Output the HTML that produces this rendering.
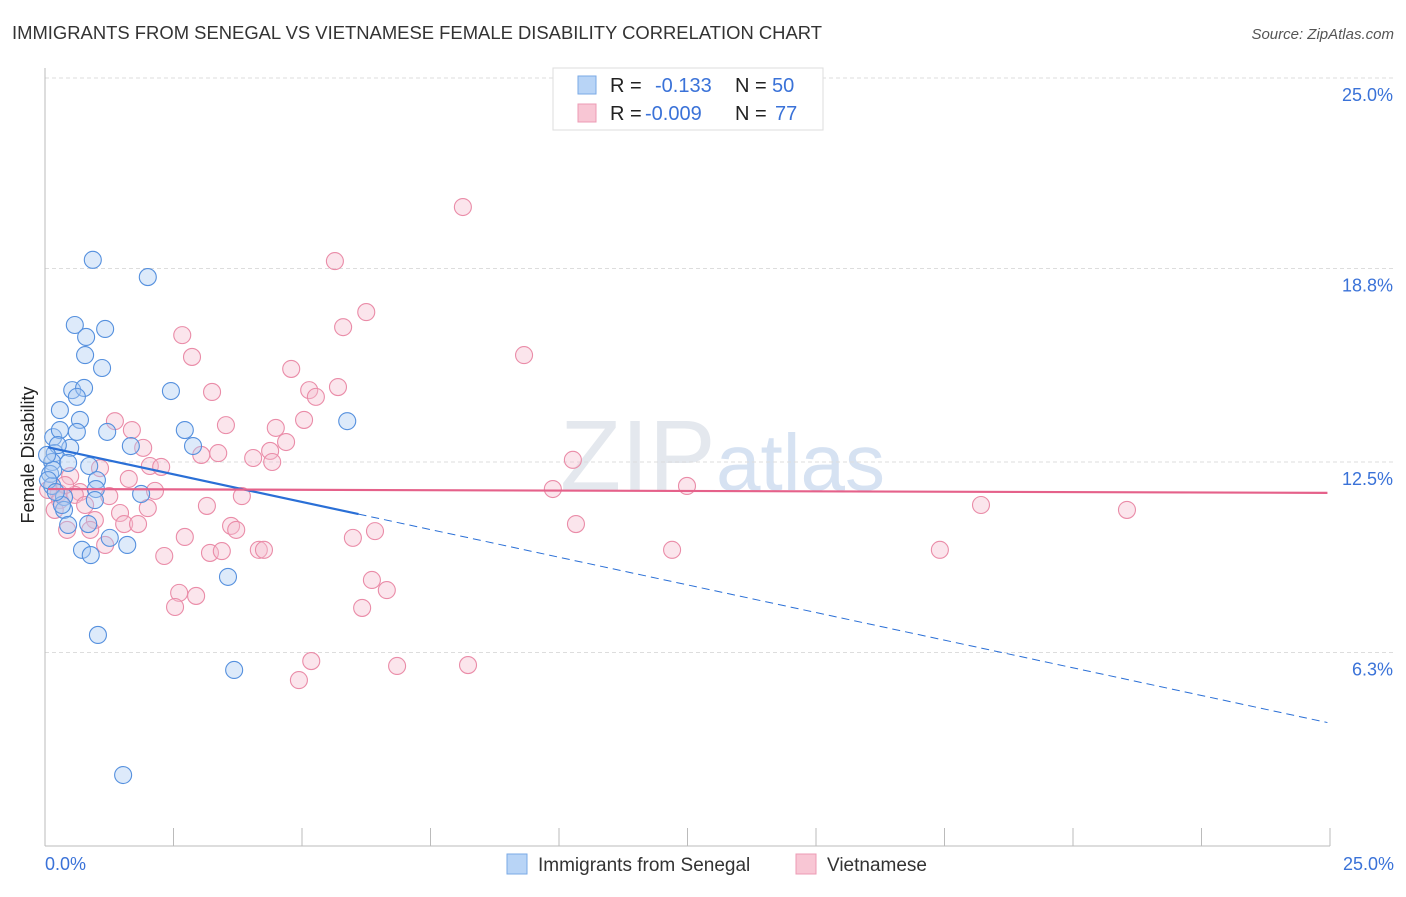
<!DOCTYPE html>
<html><head><meta charset="utf-8"><style>
body{margin:0;background:#fff;font-family:"Liberation Sans",sans-serif;}
svg text{font-family:"Liberation Sans",sans-serif;}
</style></head><body>
<svg id="chart" width="1406" height="892" viewBox="0 0 1406 892" xmlns="http://www.w3.org/2000/svg">
<text x="12" y="39" font-size="18" fill="#333" textLength="810" lengthAdjust="spacingAndGlyphs">IMMIGRANTS FROM SENEGAL VS VIETNAMESE FEMALE DISABILITY CORRELATION CHART</text>
<text x="1394" y="39" font-size="15" fill="#555" font-style="italic" text-anchor="end">Source: ZipAtlas.com</text>
<text x="560" y="490" font-size="100" fill="#e4e8ee" font-family="Liberation Serif">ZIP</text>
<text x="716" y="490" font-size="80" fill="#d6e2f2">atlas</text>
<g id="grid"></g>
<g id="axes"></g>
<g id="pts"></g>
<g id="lines"></g>
<text transform="translate(34,455) rotate(-90)" font-size="18" fill="#222" text-anchor="middle">Female Disability</text>
<g>
<rect x="553" y="68" width="270" height="62" fill="#fff" stroke="#ddd"/>
<rect x="578" y="76" width="18" height="18" fill="#b8d4f6" stroke="#7aaae6"/>
<rect x="578" y="104" width="18" height="18" fill="#f8c6d4" stroke="#ec9bb4"/>
<text x="610" y="92" font-size="20" fill="#222">R = <tspan fill="#3a72d8" x="655">-0.133</tspan><tspan fill="#222" x="735">N = </tspan><tspan fill="#3a72d8" x="772">50</tspan></text>
<text x="610" y="120" font-size="20" fill="#222">R = <tspan fill="#3a72d8" x="645">-0.009</tspan><tspan fill="#222" x="735">N = </tspan><tspan fill="#3a72d8" x="775">77</tspan></text>
</g>
<g>
<rect x="507" y="854" width="20" height="20" fill="#b8d4f6" stroke="#7aaae6"/>
<text x="538" y="871" font-size="19" fill="#333">Immigrants from Senegal</text>
<rect x="796" y="854" width="20" height="20" fill="#f8c6d4" stroke="#ec9bb4"/>
<text x="827" y="871" font-size="19" fill="#333">Vietnamese</text>
</g>
</svg>
<script>
const yTicks=[25.0,18.8,12.5,6.3];
const yTickLabels=["25.0%","18.8%","12.5%","6.3%"];
const xTickLabels=["0.0%","25.0%"];
const blueX=[0.93,2.00,0.58,0.80,1.17,0.78,1.11,0.53,0.76,0.62,2.45,0.29,0.68,0.16,0.29,0.62,1.21,1.67,2.72,2.88,5.88,0.19,0.49,0.14,0.45,0.86,0.10,1.01,0.14,1.87,0.99,0.37,0.97,0.37,0.45,0.84,1.26,0.72,0.89,1.60,3.56,1.03,3.68,1.52,0.16,0.25,0.04,0.33,0.06,0.21];
const blueY=[19.08,18.52,16.96,16.57,16.83,15.98,15.56,14.84,14.91,14.62,14.81,14.19,13.87,13.31,13.54,13.48,13.48,13.02,13.54,13.02,13.83,12.79,12.96,12.50,12.47,12.37,12.11,11.91,11.72,11.46,11.62,11.36,11.26,10.94,10.45,10.48,10.03,9.64,9.47,9.80,8.76,6.87,5.73,2.31,12.24,13.05,12.73,11.10,11.91,11.52];
const pinkX=[8.13,5.64,6.25,5.80,2.67,9.32,2.86,4.79,3.25,5.14,5.70,5.27,1.36,3.52,1.69,4.49,5.04,4.69,1.91,3.04,3.37,4.38,4.05,4.42,2.04,2.26,1.07,10.27,12.49,9.88,1.63,0.49,2.14,0.27,1.25,3.83,3.15,2.00,0.68,1.46,0.97,1.54,1.81,0.43,0.88,3.62,3.72,10.33,18.21,21.05,5.99,6.42,2.72,1.17,2.32,3.21,3.44,4.16,4.26,12.20,17.41,6.36,6.65,2.61,2.94,2.53,6.17,5.18,6.85,8.23,4.94,0.06,0.29,0.58,0.19,0.78,0.39];
const pinkY=[20.80,19.04,17.38,16.89,16.63,15.98,15.92,15.53,14.78,14.84,14.94,14.62,13.83,13.70,13.54,13.61,13.87,13.15,12.96,12.73,12.79,12.86,12.63,12.50,12.37,12.34,12.30,12.57,11.72,11.62,11.95,12.04,11.56,11.49,11.39,11.39,11.07,11.00,11.52,10.84,10.61,10.48,10.48,10.29,10.29,10.42,10.29,10.48,11.10,10.94,10.03,10.25,10.06,9.80,9.44,9.54,9.60,9.64,9.64,9.64,9.64,8.66,8.33,8.24,8.14,7.78,7.75,6.02,5.86,5.89,5.40,11.59,11.26,11.43,10.94,11.10,11.75];
const blueTrend=[13.0,-0.36];
const pinkTrend=[11.62,-0.005];
const sx=v=>45+v*51.4, sy=v=>846-v*30.72;
const NS="http://www.w3.org/2000/svg";
function mk(tag,attrs,parent){const e=document.createElementNS(NS,tag);for(const k in attrs)e.setAttribute(k,attrs[k]);parent.appendChild(e);return e;}
const grid=document.getElementById('grid'),axes=document.getElementById('axes'),pts=document.getElementById('pts'),lines=document.getElementById('lines');
yTicks.forEach((t,i)=>{
 const l=mk('line',{x1:45,x2:1394,y1:sy(t),y2:sy(t),stroke:'#ddd','stroke-dasharray':'4,3'},grid);
 
 
 const tx=mk('text',{x:1393,y:sy(t)+23,'font-size':18,fill:'#3a72d8','text-anchor':'end'},axes);
 tx.textContent=yTickLabels[i];
 
 
});
const ya=mk('line',{x1:45,x2:45,y1:68,y2:846,stroke:'#bbb'},axes);


const xa=mk('line',{x1:45,x2:1330,y1:846,y2:846,stroke:'#bbb'},axes);


for(let i=0;i<=10;i++){const x=sx(i*2.5);const tk=mk('line',{x1:x,x2:x,y1:828,y2:846,stroke:'#bbb'},axes);
 
 }
[[0,'start',45],[25,'end',1394]].forEach((a,i)=>{const tx=mk('text',{x:a[2],y:870,'font-size':18,fill:'#3a72d8','text-anchor':a[1]},axes);tx.textContent=xTickLabels[i];
 
 });
function dots(X,Y,fill,stroke,name){X.forEach((x,i)=>{const c=mk('circle',{cx:sx(x),cy:sy(Y[i]),r:8.5,fill:fill,'fill-opacity':0.4,stroke:stroke,'stroke-width':1.1},pts);
 
 });}
dots(pinkX,pinkY,'#f6bfd0','#ea8ca8','point-vietnamese');
dots(blueX,blueY,'#a9cbf2','#5590de','point-senegal');
const f=(t,x)=>t[0]+t[1]*x;
const b1=mk('line',{x1:sx(0.06),y1:sy(f(blueTrend,0.06)),x2:sx(6.1),y2:sy(f(blueTrend,6.1)),stroke:'#2a6fd6','stroke-width':2.2},lines);


const b2=mk('line',{x1:sx(6.1),y1:sy(f(blueTrend,6.1)),x2:sx(24.95),y2:sy(f(blueTrend,24.95)),stroke:'#2a6fd6','stroke-width':1,'stroke-dasharray':'8,5'},lines);


const p1=mk('line',{x1:sx(0.06),y1:sy(f(pinkTrend,0.06)),x2:sx(24.95),y2:sy(f(pinkTrend,24.95)),stroke:'#e5618a','stroke-width':2.2},lines);


</script>
</body></html>
